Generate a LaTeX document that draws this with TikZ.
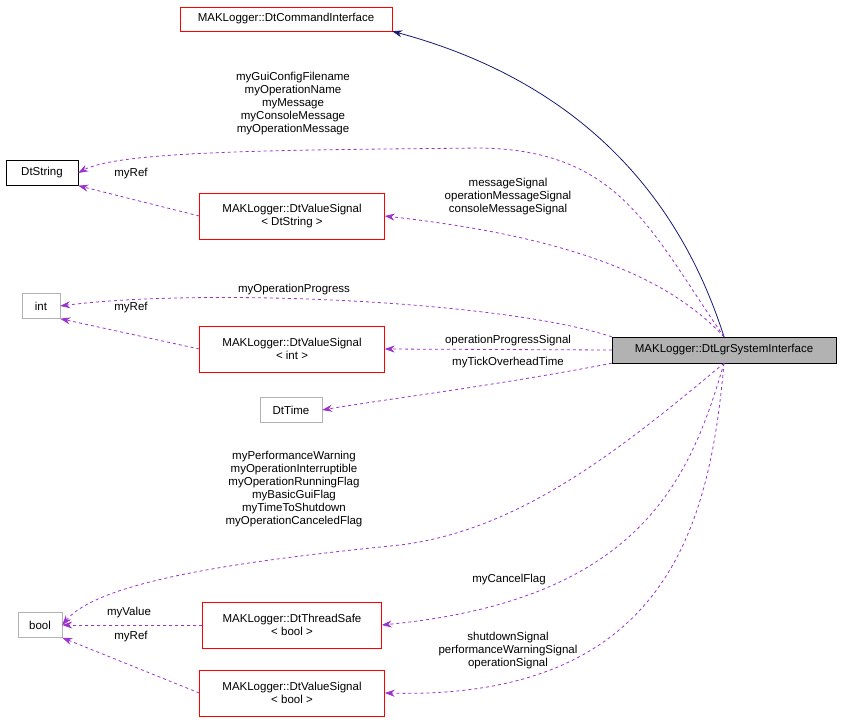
\documentclass[tikz,border=0pt]{standalone}
\usepackage{fontspec}
\setmainfont{Liberation Sans}
\usetikzlibrary{positioning, arrows.meta}
\definecolor{usecol}{HTML}{9A32CD}
\definecolor{inhcol}{HTML}{191970}

\begin{document}
\begin{tikzpicture}[x=1pt, y=-1pt, >={Stealth[length=10pt,width=7pt]},
    every node/.style={font=\fontsize{11.5}{13}\selectfont},
    cls/.style={draw=red, fill=white, align=center, minimum height=24pt, inner sep=2pt},
    ext/.style={draw=black!30, fill=white, minimum height=25pt, inner sep=4pt},
    use/.style={->, dashed, draw=usecol, color=usecol, thick},
    lbl/.style={align=center, inner sep=1pt}]
    \useasboundingbox (0,0) rectangle (843,723);

    % classes
    \node[cls, minimum width=212pt] (cmd) at (286,19) {MAKLogger::DtCommandInterface};
    \node[draw=black, fill=white, minimum width=72pt, minimum height=25pt] (str) at (42,173) {DtString};
    \node[cls, minimum width=185pt, minimum height=46pt] (vstr) at (292,216) {MAKLogger::DtValueSignal\\< DtString >};
    \node[ext, minimum width=38pt] (int) at (41,306) {int};
    \node[cls, minimum width=185pt, minimum height=46pt] (vint) at (292,349) {MAKLogger::DtValueSignal\\< int >};
    \node[draw=black, fill=black!30, minimum width=224pt, minimum height=26pt] (sys) at (724,350) {MAKLogger::DtLgrSystemInterface};
    \node[ext, minimum width=62pt] (time) at (291,410) {DtTime};
    \node[ext, minimum width=44pt] (bool) at (40,625) {bool};
    \node[cls, minimum width=179pt, minimum height=46pt] (tsb) at (292,625) {MAKLogger::DtThreadSafe\\< bool >};
    \node[cls, minimum width=185pt, minimum height=46pt] (vbool) at (292,693) {MAKLogger::DtValueSignal\\< bool >};

    % inheritance
    \draw[->, draw=inhcol, color=inhcol, thick] (sys.north) .. controls (690,230) and (610,90) .. (cmd.south east);

    % usage
    \draw[use] (sys.north) .. controls (650,230) and (620,150) .. (480,148) .. controls (300,150) and (120,150) .. (str.east);
    \draw[use] (vstr.west) -- (str.south east);
    \draw[use] (sys.north) .. controls (680,290) and (600,240) .. (vstr.east);
    \draw[use] (sys.north west) .. controls (500,300) and (200,288) .. (int.east);
    \draw[use] (vint.west) -- (int.south east);
    \draw[use] (sys.west) -- (vint.east);
    \draw[use] (sys.south west) .. controls (500,385) and (380,400) .. (time.east);
    \draw[use] (sys.south) .. controls (620,450) and (520,530) .. (400,545) .. controls (250,560) and (100,580) .. (bool.east);
    \draw[use] (tsb.west) -- (bool.east);
    \draw[use] (vbool.west) -- (bool.south east);
    \draw[use] (sys.south) .. controls (690,480) and (640,600) .. (tsb.east);
    \draw[use] (sys.south) .. controls (710,520) and (670,700) .. (vbool.east);

    % labels
    \node[lbl] at (293,104) {myGuiConfigFilename\\myOperationName\\myMessage\\myConsoleMessage\\myOperationMessage};
    \node[lbl] at (131,174) {myRef};
    \node[lbl] at (508,197) {messageSignal\\operationMessageSignal\\consoleMessageSignal};
    \node[lbl] at (294,290) {myOperationProgress};
    \node[lbl] at (131,308) {myRef};
    \node[lbl] at (508,341) {operationProgressSignal};
    \node[lbl] at (508,363) {myTickOverheadTime};
    \node[lbl] at (294,489) {myPerformanceWarning\\myOperationInterruptible\\myOperationRunningFlag\\myBasicGuiFlag\\myTimeToShutdown\\myOperationCanceledFlag};
    \node[lbl] at (509,580) {myCancelFlag};
    \node[lbl] at (129,613) {myValue};
    \node[lbl] at (131,637) {myRef};
    \node[lbl] at (508,651) {shutdownSignal\\performanceWarningSignal\\operationSignal};
\end{tikzpicture}
\end{document}
